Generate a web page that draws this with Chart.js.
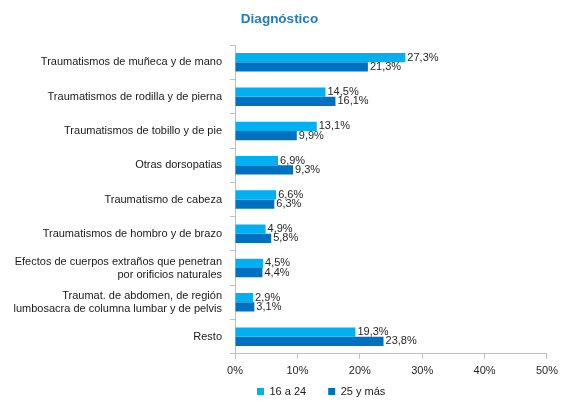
<!DOCTYPE html>
<html>
<head>
<meta charset="utf-8">
<script src="https://cdn.jsdelivr.net/npm/chart.js@4"></script>
<style>
  html, body { margin: 0; padding: 0; background: #fff; }
  #wrap { width: 564px; height: 401px; }
</style>
</head>
<body>
<div id="wrap"><canvas id="myChart"></canvas></div>
<script>
// Data
const categories = [
    'Traumatismos de muñeca y de mano',
    'Traumatismos de rodilla y de pierna',
    'Traumatismos de tobillo y de pie',
    'Otras dorsopatias',
    'Traumatismo de cabeza',
    'Traumatismos de hombro y de brazo',
    ['Efectos de cuerpos extraños que penetran', 'por orificios naturales'],
    ['Traumat. de abdomen, de región', 'lumbosacra de columna lumbar y de pelvis'],
    'Resto'
];
const young = [27.3, 14.5, 13.1, 6.9, 6.6, 4.9, 4.5, 2.9, 19.3];   // 16 a 24
const older = [21.3, 16.1, 9.9, 9.3, 6.3, 5.8, 4.4, 3.1, 23.8];    // 25 y más
const seriesNames = ['16 a 24', '25 y más'];
const xTicks = [0, 10, 20, 30, 40, 50];

const FONT = "'Liberation Sans', Arial, sans-serif";

// draws the value next to each bar, e.g. "27,3%"
const valueLabels = {
    id: 'valueLabels',
    afterDatasetsDraw(chart) {
        const ctx = chart.ctx;
        ctx.save();
        ctx.font = '11px ' + FONT;
        ctx.fillStyle = '#262626';
        ctx.textAlign = 'left';
        ctx.textBaseline = 'middle';
        chart.data.datasets.forEach((ds, i) => {
            chart.getDatasetMeta(i).data.forEach((bar, j) => {
                const txt = ds.data[j].toFixed(1).replace('.', ',') + '%';
                ctx.fillText(txt, bar.x + 2, bar.y);
            });
        });
        ctx.restore();
    }
};

// legend needs wide horizontal gaps but sits close under the axis labels,
// so pull the legend box up a bit after layout
const legendNudge = {
    id: 'legendNudge',
    afterLayout(chart) {
        if (chart.legend) {
            chart.legend.top -= 20;
            chart.legend.bottom -= 20;
        }
    }
};

new Chart(document.getElementById('myChart'), {
    type: 'bar',
    data: {
        labels: categories,
        datasets: [{
            label: seriesNames[0],
            data: young,
            backgroundColor: '#00b0f0',
            categoryPercentage: 0.54,
            barPercentage: 1
        }, {
            label: seriesNames[1],
            data: older,
            backgroundColor: '#0070c0',
            categoryPercentage: 0.54,
            barPercentage: 1
        }]
    },
    options: {
        indexAxis: 'y',
        responsive: true,
        maintainAspectRatio: false,
        animation: false,
        layout: { padding: { top: 4, right: 15, left: 10, bottom: -26 } },
        scales: {
            x: {
                min: 0,
                max: 50,
                afterBuildTicks: (scale) => { scale.ticks = xTicks.map(v => ({ value: v })); },
                ticks: {
                    callback: (v) => v + '%',
                    font: { family: FONT, size: 11 },
                    color: '#262626',
                    padding: 6
                },
                grid: { drawOnChartArea: false, tickLength: 5, color: '#bfbfbf' },
                border: { color: '#bfbfbf' }
            },
            y: {
                afterFit: (scale) => { scale.width = 225; },
                ticks: {
                    font: { family: FONT, size: 11 },
                    color: '#1a1a1a',
                    padding: 8
                },
                grid: { drawOnChartArea: false, tickLength: 5, color: '#bfbfbf', offset: true },
                border: { color: '#bfbfbf' }
            }
        },
        plugins: {
            title: {
                display: true,
                text: 'Diagnóstico',
                color: '#1f7bc3',
                font: { family: FONT, size: 13.5, weight: 'bold' },
                padding: { top: 7, bottom: 18 }
            },
            legend: {
                position: 'bottom',
                align: 'start',
                fullSize: false,
                labels: {
                    boxWidth: 7,
                    boxHeight: 7,
                    padding: 22,
                    font: { family: FONT, size: 11 },
                    color: '#1a1a1a'
                }
            },
            tooltip: { enabled: false }
        }
    },
    plugins: [valueLabels, legendNudge]
});
</script>
</body>
</html>
